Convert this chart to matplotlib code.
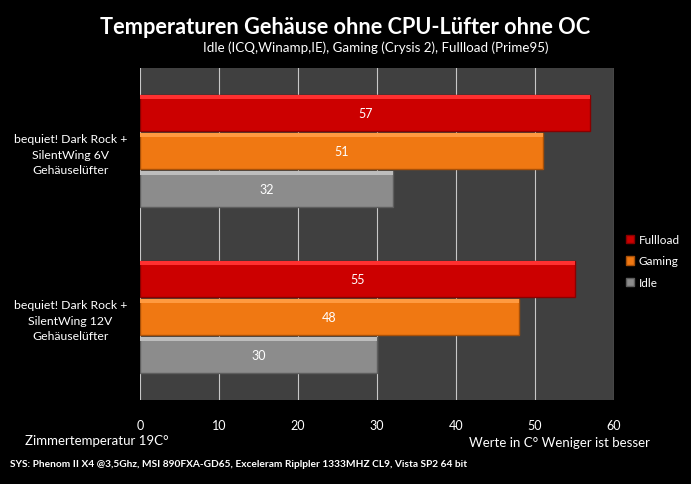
import numpy as np
import matplotlib.pyplot as plt

plt.rcParams['font.family'] = ['Lato', 'DejaVu Sans']

categories = ["bequiet! Dark Rock +\nSilentWing 6V\nGehäuselüfter",
              "bequiet! Dark Rock +\nSilentWing 12V\nGehäuselüfter"]
series = ["Fullload", "Gaming", "Idle"]
fullload = [57, 55]
gaming = [51, 48]
idle = [32, 30]
values = [fullload, gaming, idle]
colors = ["#cc0000", "#f07812", "#8c8c8c"]
light = ["#ff3030", "#ff9a40", "#bdbdbd"]
dark = ["#8a0000", "#a85008", "#5e5e5e"]

fig = plt.figure(figsize=(6.91, 4.85), dpi=100, facecolor="black")
ax = fig.add_axes([140/691, 1-401/485, 474/691, 332/485])
ax.set_facecolor("#404040")

y = np.arange(len(categories))
h = 0.215
offsets = [-0.228, 0, 0.228]
for i, name in enumerate(series):
    pos = y + offsets[i]
    ax.barh(pos, values[i], height=h, color=colors[i], edgecolor=dark[i],
            linewidth=1.0, label=name, zorder=3)
    # bevel highlight along top edge
    ax.barh(pos - h/2 + 0.012, values[i], height=0.024, color=light[i],
            linewidth=0, zorder=4)
    for p, v in zip(pos, values[i]):
        ax.text(v/2, p, str(v), color="white", ha="center", va="center",
                fontsize=9, zorder=5)

ax.set_xlim(0, 60)
ax.set_ylim(1.5, -0.5)
ax.set_xticks(range(0, 61, 10))
ax.tick_params(axis="x", colors="white", length=0, labelsize=9, pad=14)
ax.set_yticks(y)
ax.set_yticklabels(categories, color="white", fontsize=8.8, ha="center",
                   linespacing=1.45)
ax.tick_params(axis="y", length=0, pad=50)
ax.grid(axis="x", color="#c8c8c8", linewidth=0.8, zorder=0)
for s in ax.spines.values():
    s.set_visible(False)

fig.text(0.5, 1-27/485, "Temperaturen Gehäuse ohne CPU-Lüfter ohne OC",
         color="white", fontsize=15.7, fontweight="bold", ha="center", va="center")
fig.text(376/691, 1-48/485, "Idle (ICQ,Winamp,IE), Gaming (Crysis 2), Fullload (Prime95)",
         color="white", fontsize=9.6, ha="center", va="center")
fig.text(25/691, 1-441/485, "Zimmertemperatur 19C°", color="white", fontsize=9.5,
         va="center")
fig.text(650/691, 1-443/485, "Werte in C° Weniger ist besser", color="white",
         fontsize=9.5, ha="right", va="center")
fig.text(10/691, 1-465/485,
         "SYS: Phenom II X4 @3,5Ghz, MSI 890FXA-GD65, Exceleram Riplpler 1333MHZ CL9, Vista SP2 64 bit",
         color="white", fontsize=7.3, fontweight="bold", va="center")

leg = fig.legend(loc="center left", bbox_to_anchor=(615/691, 1-262/485),
                 frameon=False, fontsize=8.5, labelcolor="white",
                 handlelength=0.7, handleheight=0.7, handletextpad=0.4,
                 labelspacing=0.9)

fig.savefig("out.png", dpi=100, facecolor="black")
